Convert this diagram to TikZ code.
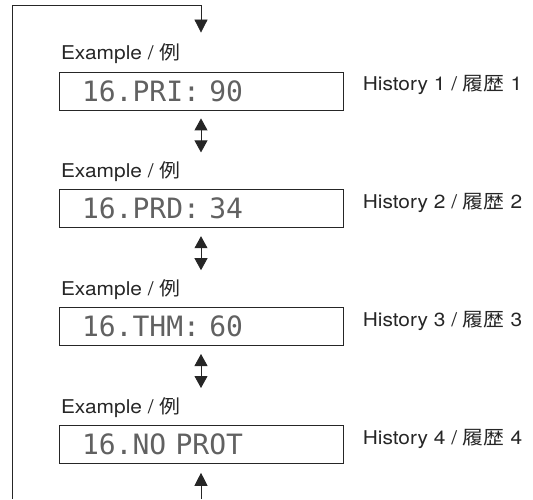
\documentclass[tikz,border=0pt]{standalone}
\usepackage{fontspec}
\setmainfont{TeX Gyre Heros}[FakeStretch=1.1]
\newfontfamily\cjkfont{Noto Sans CJK JP}[FakeStretch=1.1]
\newfontfamily\lcdfont{DejaVu Sans Mono}
\usetikzlibrary{arrows.meta, positioning}

\begin{document}
\begin{tikzpicture}[
  x=1pt, y=1pt,
  line width=0.8pt, draw=black!85,
  display/.style={draw, minimum height=38pt, text width=238pt, inner xsep=23pt, inner ysep=0pt,
    align=left, text height=20.4pt, text depth=0pt, font=\lcdfont\fontsize{28}{30}\selectfont, text=black!62},
  tag/.style={anchor=base west, inner sep=0pt, font=\fontsize{19}{22}\selectfont, text=black!85},
  arrow/.style={-{Triangle[width=13pt, length=13pt]}},
  dblarrow/.style={{Triangle[width=13pt, length=12pt]}-{Triangle[width=13pt, length=12pt]}},
]
  \useasboundingbox (0,0) rectangle (533,499);

  \node[display] (display1) at (201,408) {16.PRI: 90};
  \node[display, below=79pt of display1] (display2) {16.PRD: 34};
  \node[display, below=79pt of display2] (display3) {16.THM: 60};
  \node[display, below=79pt of display3] (display4) {16.NO PROT};

  \foreach \i in {1,...,4} {
    \node[tag] (example\i) at ([shift={(2pt,12pt)}]display\i.north west) {Example / {\cjkfont 例}};
    \node[tag] (history\i) at ([shift={(19pt,0pt)}]display\i.east) {History \i\ / {\cjkfont 履歴} \i};
  }

  % double arrows between the displays
  \foreach \i in {1,2,3}
    \draw[dblarrow] ([yshift=-8pt]display\i.south) -- ([yshift=-42pt]display\i.south);

  % return loop
  \coordinate (loopbottom) at (12,0);
  \coordinate (looptop) at (12,494);
  \draw[arrow] (loopbottom) -- (looptop) -| ([yshift=39pt]display1.north);
  \draw[arrow] (display4.south |- loopbottom) -- ([yshift=-9pt]display4.south);
\end{tikzpicture}
\end{document}
